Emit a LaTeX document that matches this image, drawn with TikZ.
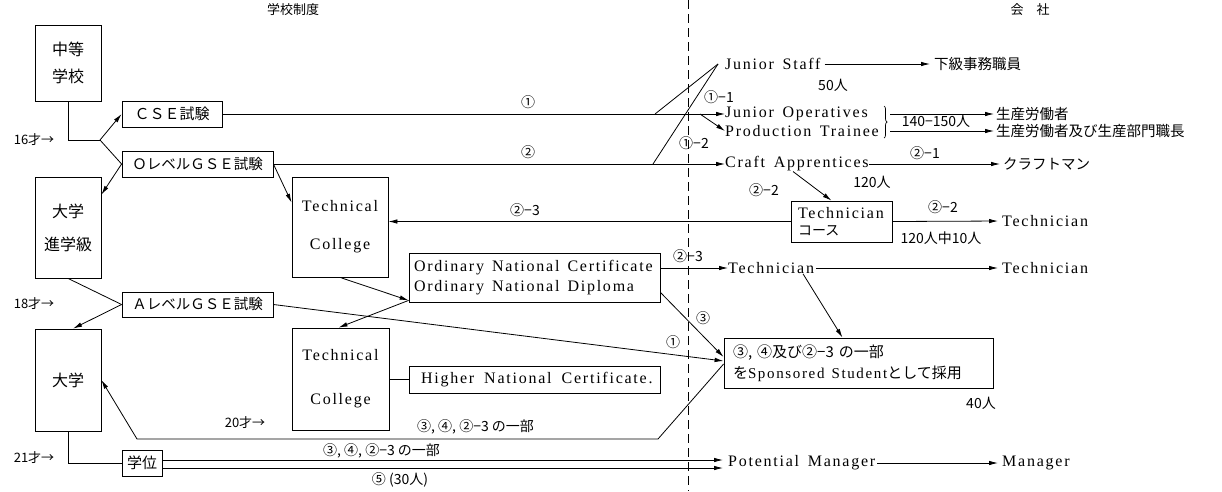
\documentclass[tikz,border=0pt]{standalone}
\usepackage{fontspec}
\setmainfont{Liberation Serif}[LetterSpace=11, WordSpace=1.5]
\newfontfamily\jp{Noto Sans CJK JP}
\usetikzlibrary{arrows.meta,decorations.pathreplacing,calc}
\newcommand\wsp[1]{\hspace*{#1pt}}
\begin{document}
\begin{tikzpicture}[x=1pt,y=-1pt,
  box/.style={draw, line width=0.8pt, inner sep=0pt, align=center},
  en/.style={font=\fontsize{16}{16}\selectfont},
  ja/.style={font=\jp\fontsize{14.5}{14.5}\selectfont},
  txt/.style={inner sep=0pt, anchor=west},
  lbl/.style={inner sep=0pt, font=\jp\fontsize{14}{14}\selectfont},
  hdr/.style={inner sep=0pt, font=\jp\fontsize{13}{13}\selectfont},
  arr/.style={line width=0.8pt, -{Latex[length=9pt,width=4.5pt]}},
  ln/.style={line width=0.8pt}]
\useasboundingbox (0,0) rectangle (1222,491);
\fill[white] (0,0) rectangle (1222,491);

% headers
\node[hdr] (hd1) at (293,10) {学校制度};
\node[hdr] (hd2) at (1030,10) {会\quad 社};
\draw[ln, dash pattern=on 9pt off 5pt] (688,0) -- (688,491);

% ages
\node[hdr] (a16) at (34,140) {16才→};
\node[hdr] (a18) at (34,304) {18才→};
\node[hdr] (a20) at (245,423) {20才→};
\node[hdr] (a21) at (34,458) {21才→};

% school boxes
\node[box, minimum width=66pt, minimum height=76pt, font=\jp\fontsize{16}{27}\selectfont] (chuto) at (68,63) {中等\\学校};
\node[box, minimum width=100pt, minimum height=26pt, font=\jp\fontsize{15}{15}\selectfont] (cse) at (172,114) {ＣＳＥ試験};
\node[box, minimum width=151pt, minimum height=26pt, font=\jp\fontsize{14.5}{14.5}\selectfont] (olevel) at (197.5,164) {ＯレベルＧＳＥ試験};
\node[box, minimum width=66pt, minimum height=101pt, font=\jp\fontsize{16}{33}\selectfont] (shingaku) at (68,227.5) {大学\\進学級};
\node[box, minimum width=96pt, minimum height=100pt, font=\fontsize{16}{38}\selectfont] (tc1) at (340,227) {Technical\\College};
\node[box, minimum width=151pt, minimum height=25pt, font=\jp\fontsize{14.5}{14.5}\selectfont] (alevel) at (197.5,304.5) {ＡレベルＧＳＥ試験};
\node[box, minimum width=66pt, minimum height=102pt, font=\jp\fontsize{16}{16}\selectfont] (daigaku) at (68,380) {大学};
\node[box, minimum width=40pt, minimum height=26pt, font=\jp\fontsize{15}{15}\selectfont] (gakui) at (142,463) {学位};
\node[box, minimum width=251pt, minimum height=49pt, text width=241pt, align=left, font=\fontsize{16}{20}\selectfont] (onc) at (534.5,277.5) {Ordinary\wsp{8}National\wsp{8}Certificate\\Ordinary\wsp{8}National\wsp{8}Diploma};
\node[box, minimum width=97pt, minimum height=102pt, font=\fontsize{16}{44}\selectfont] (tc2) at (340.5,379) {Technical\\College};
\node[box, minimum width=251pt, minimum height=27pt, text width=227pt, align=left, font=\fontsize{16}{16}\selectfont] (hnc) at (534.5,379.5) {Higher\wsp{10}National\wsp{10}Certificate.};

% company side boxes
\node[box, minimum width=101pt, minimum height=41pt, text width=87pt, align=left, font=\fontsize{16}{17}\selectfont] (tcourse) at (841.5,221.5) {Technician\\{\jp\fontsize{14}{14}\selectfont コース}};
\node[box, minimum width=269pt, minimum height=50pt, text width=251pt, align=left, font=\fontsize{15}{21}\selectfont] (spons) at (858.5,363) {{\jp ③, ④及び②−3 の一部}\\{\jp を}Sponsored\wsp{7}Student{\jp として採用}};

% company text nodes
\node[txt,en] (jstaff) at (725,64) {Junior Staff};
\node[txt,ja] (kakyu) at (934,64) {下級事務職員};
\node[txt,en] (jops) at (725,114) {Junior Operatives};
\node[txt,en] (ptrain) at (725,131) {Production Trainee};
\node[txt,ja] (seisan1) at (996,114) {生産労働者};
\node[txt,ja] (seisan2) at (996,131) {生産労働者及び生産部門職長};
\node[txt,en] (craft) at (725,164) {Craft Apprentices};
\node[txt,ja] (craftsman) at (1003,164) {クラフトマン};
\node[txt,en] (tech1) at (1002,221) {Technician};
\node[txt,en] (tech2a) at (728,268) {Technician};
\node[txt,en] (tech2b) at (1002,268) {Technician};
\node[txt,en] (potential) at (728,463) {Potential Manager};
\node[txt,en] (manager) at (1002,463) {Manager};

% labels
\node[lbl] (n1) at (528,102) {①};
\node[lbl] (n2) at (528,152) {②};
\node[lbl] (n11) at (719,97) {①−1};
\node[lbl] (n12) at (694,143) {①−2};
\node[lbl] (n21) at (925,153) {②−1};
\node[lbl] (n22a) at (764,190) {②−2};
\node[lbl] (n22b) at (943,207) {②−2};
\node[lbl] (n23a) at (525,210) {②−3};
\node[lbl] (n23b) at (688,256) {②−3};
\node[lbl] (p50) at (833,85) {50人};
\node[lbl] (p140) at (936,121) {140−150人};
\node[lbl] (p120) at (872,182) {120人};
\node[lbl] (p120b) at (941,238) {120人中10人};
\node[lbl] (n3) at (703,318) {③};
\node[lbl] (n1b) at (673,342) {①};
\node[lbl] (p40) at (981,403) {40人};
\node[lbl, anchor=west] (lab1) at (417,427) {③, ④, ②−3 の一部};
\node[lbl, anchor=west] (lab2) at (323,451) {③, ④, ②−3 の一部};
\node[lbl] (lab3) at (400,480) {⑤ (30人)};

% coordinates
\coordinate (br16) at (100,140);
\coordinate (c1a) at (655,114);
\coordinate (c1b) at (700,114);
\coordinate (c2a) at (653,164);
\coordinate (brA) at (890,114);
\coordinate (brB) at (890,131);
\coordinate (l1) at (658,439);
\coordinate (l2) at (137,439);

% connectors: school side
\draw[ln] (chuto.south) |- (br16);
\draw[arr] (br16) -- (cse.west);
\draw[ln] (br16) -- (olevel.west);
\draw[arr] (olevel.west) -- ([yshift=-18pt]shingaku.north east);
\draw[arr] (olevel.east) -- ([yshift=-26pt]tc1.north west);
\draw[arr] (cse.east) -- (jops.west);
\draw[ln] (c1a) -- ([xshift=-7pt]jstaff.west);
\draw[arr] (c1b) -- (ptrain.west);
\draw[arr] (olevel.east) -- (craft.west);
\draw[ln] (c2a) -- ([xshift=-7pt]jstaff.west);
\draw[ln] (shingaku.south) -- (alevel.west);
\draw[arr] (alevel.west) -- ([xshift=5pt]daigaku.north);
\draw[ln] (daigaku.south) |- (gakui.west);
\draw[arr] (tc1.south) -- ([yshift=2pt]onc.south west);
\draw[arr] ([yshift=2pt]onc.south west) -- ([xshift=-2pt]tc2.north);
\draw[ln] (tc2.east |- hnc.west) -- (hnc.west);
\draw[arr] (tcourse.west) -- (tcourse.west -| tc1.east);

% company side
\draw[arr, shorten <=4pt, shorten >=4pt] (jstaff.east) -- (kakyu.west);
\draw[decorate, decoration={brace, amplitude=3pt}, line width=0.7pt] (884,106) -- (884,138);
\draw[arr, shorten >=2pt] (brA) -- (seisan1.west);
\draw[arr, shorten >=2pt] (brB) -- (seisan2.west);
\draw[arr, shorten >=3pt] (craft.east) -- (craftsman.west);
\draw[arr] ([xshift=68pt]craft.south west) -- ([xshift=-10pt]tcourse.north);
\draw[arr, shorten >=4pt] (tcourse.east) -- (tech1.west);
\draw[arr] (tech2a.west -| onc.east) -- (tech2a.west);
\draw[arr, shorten <=2pt, shorten >=4pt] (tech2a.east) -- (tech2b.west);
\draw[arr] ([xshift=75pt]tech2a.south west) -- ([xshift=-16pt]spons.north);
\draw[arr] ([yshift=10pt]onc.south east) -- ([yshift=6pt]spons.west);
\draw[arr] (alevel.east) -- ([yshift=2pt]spons.west);
\draw[arr] ([yshift=-1pt]spons.west) -- (l1) -- (l2) -- (daigaku.east);
\draw[arr, shorten >=5pt] ([yshift=3pt]gakui.east) -- ([yshift=3pt]potential.west);
\draw[arr, shorten >=5pt] ([yshift=-5pt]gakui.east) -- ([yshift=-5pt]potential.west);
\draw[arr, shorten <=2pt, shorten >=4pt] (potential.east) -- (manager.west);
\end{tikzpicture}
\end{document}
